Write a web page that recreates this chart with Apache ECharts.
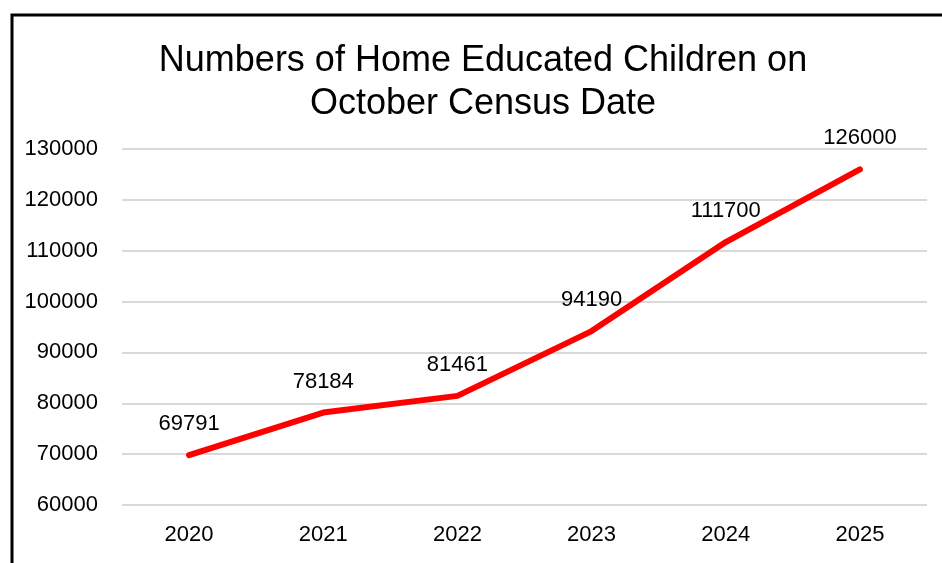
<!DOCTYPE html>
<html>
<head>
<meta charset="utf-8">
<script src="https://cdn.jsdelivr.net/npm/echarts@6/dist/echarts.min.js"></script>
<style>
  html, body { margin: 0; padding: 0; background: #fff; }
  #chart { width: 942px; height: 563px; }
</style>
</head>
<body>
<div id="chart"></div>
<script>
// Census years and home-educated child counts
const years = ['2020', '2021', '2022', '2023', '2024', '2025'];
const children = [69791, 78184, 81461, 94190, 111700, 126000];
const titleLines = ['Numbers of Home Educated Children on', 'October Census Date'];

const font = '"Liberation Sans", Arial, sans-serif';
const chart = echarts.init(document.getElementById('chart'));

chart.setOption({
  backgroundColor: '#ffffff',
  animation: false,
  grid: { left: 122, right: 15, top: 149, bottom: 58 },
  xAxis: {
    type: 'category',
    data: years,
    boundaryGap: true,
    axisLine: { show: false },
    axisTick: { show: false },
    axisLabel: { color: '#000', fontFamily: font, fontSize: 22, margin: 19 }
  },
  yAxis: {
    type: 'value',
    min: 60000,
    max: 130000,
    interval: 10000,
    axisLine: { show: false },
    axisTick: { show: false },
    axisLabel: {
      color: '#000', fontFamily: font, fontSize: 22, margin: 24,
      formatter: v => String(v)
    },
    splitLine: { lineStyle: { color: '#d9d9d9', width: 2 } }
  },
  series: [{
    type: 'line',
    data: children,
    showSymbol: true,
    symbol: 'circle',
    symbolSize: 0,
    itemStyle: { color: '#ff0000' },
    lineStyle: { color: '#ff0000', width: 6, cap: 'round', join: 'round' },
    label: {
      show: true,
      position: 'top',
      distance: 20,
      color: '#000',
      fontFamily: font,
      fontSize: 22,
      formatter: p => String(p.value)
    }
  }],
  graphic: [
    {
      type: 'polyline',
      shape: { points: [[12, 563], [12, 15], [942, 15]] },
      style: { stroke: '#000', lineWidth: 3, fill: null }
    },
    {
      type: 'text',
      x: 483,
      y: 61,
      style: {
        text: titleLines[0], fill: '#000', font: '36px ' + font,
        align: 'center', verticalAlign: 'middle'
      }
    },
    {
      type: 'text',
      x: 483,
      y: 104,
      style: {
        text: titleLines[1], fill: '#000', font: '36px ' + font,
        align: 'center', verticalAlign: 'middle'
      }
    }
  ]
});
</script>
</body>
</html>
